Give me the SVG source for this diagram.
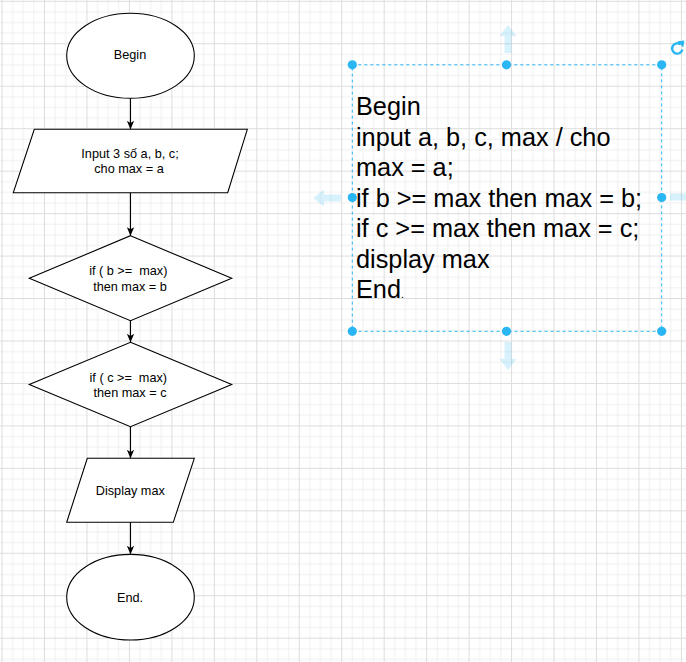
<svg xmlns="http://www.w3.org/2000/svg" width="686" height="662" viewBox="0 0 686 662">
<style>
.shape{fill:#ffffff;stroke:#000000;stroke-width:1.1}
.lbl{font-family:"Liberation Sans",Arial,sans-serif;font-size:12.7px;fill:#000000;text-anchor:middle}
.code{font-family:"Liberation Sans",Arial,sans-serif;font-size:25.3px;fill:#000000}
.conn{stroke:#000000;stroke-width:1.1;fill:none}
.sel{fill:none;stroke:#29b6f2;stroke-width:1;stroke-dasharray:3 3}
.handle{fill:#29b6f2}
.hover{fill:#29b6f2;opacity:0.18}
</style>
<defs>
<pattern id="grid" patternUnits="userSpaceOnUse" x="1.54" y="0.8" width="42.46" height="42.46">
<rect x="0" y="0" width="42.46" height="42.46" fill="#ffffff"/>
<rect x="10.615" y="0" width="1" height="42.46" fill="#f0f0f0"/>
<rect x="21.23" y="0" width="1" height="42.46" fill="#f0f0f0"/>
<rect x="31.845" y="0" width="1" height="42.46" fill="#f0f0f0"/>
<rect x="0" y="10.615" width="42.46" height="1" fill="#f0f0f0"/>
<rect x="0" y="21.23" width="42.46" height="1" fill="#f0f0f0"/>
<rect x="0" y="31.845" width="42.46" height="1" fill="#f0f0f0"/>
<rect x="0" y="0" width="1" height="42.46" fill="#dddddd"/>
<rect x="0" y="0" width="42.46" height="1" fill="#dddddd"/>
</pattern>
<marker id="arr" markerUnits="userSpaceOnUse" viewBox="0 0 10 10" refX="10" refY="5" markerWidth="8.5" markerHeight="8.5" orient="auto">
<path d="M0,0.7 L10,5 L0,9.3 L2.5,5 Z" fill="#000000"/>
</marker>
<path id="harrow" d="M0,0 L8.5,11 L3.5,11 L3.5,28 L-3.5,28 L-3.5,11 L-8.5,11 Z"/>
</defs>
<rect x="0" y="0" width="686" height="662" fill="url(#grid)"/>

<g id="connectors">
<line class="conn" x1="130.5" y1="98.3" x2="130.5" y2="129.3" marker-end="url(#arr)"/>
<line class="conn" x1="130.5" y1="192.7" x2="130.5" y2="235.7" marker-end="url(#arr)"/>
<line class="conn" x1="130.5" y1="320.7" x2="130.5" y2="342.3" marker-end="url(#arr)"/>
<line class="conn" x1="130.5" y1="426.7" x2="130.5" y2="458.3" marker-end="url(#arr)"/>
<line class="conn" x1="130.5" y1="522.3" x2="130.5" y2="554.3" marker-end="url(#arr)"/>
</g>

<g id="begin">
<ellipse class="shape" cx="130.5" cy="55.8" rx="63.8" ry="42.5"/>
<text class="lbl" x="130" y="58.5">Begin</text>
</g>

<g id="input">
<polygon class="shape" points="34.3,129.3 247.3,129.3 227.7,192.7 13.3,192.7"/>
<text class="lbl" x="130" y="158.3">Input 3 số a, b, c;</text>
<text class="lbl" x="129" y="172.8">cho max = a</text>
</g>

<g id="cond-b">
<polygon class="shape" points="130.5,235.7 231.7,278.3 130.5,320.7 29.3,278.3"/>
<text class="lbl" x="128.3" y="275" xml:space="preserve">if ( b &gt;=  max)</text>
<text class="lbl" x="130" y="290.7">then max = b</text>
</g>

<g id="cond-c">
<polygon class="shape" points="130.5,342.3 231.7,384.5 130.5,426.7 29.3,384.5"/>
<text class="lbl" x="128.3" y="381.5" xml:space="preserve">if ( c &gt;=  max)</text>
<text class="lbl" x="130" y="397.3">then max = c</text>
</g>

<g id="display">
<polygon class="shape" points="87.3,458.3 194.3,458.3 173.3,522.3 66.7,522.3"/>
<text class="lbl" x="130.3" y="495">Display max</text>
</g>

<g id="end">
<ellipse class="shape" cx="130.5" cy="597.2" rx="63.8" ry="42.8"/>
<text class="lbl" x="130" y="601.7">End.</text>
</g>

<g id="pseudocode">
<use href="#harrow" class="hover" transform="translate(508,25)"/>
<use href="#harrow" class="hover" transform="translate(508,370) rotate(180)"/>
<use href="#harrow" class="hover" transform="translate(313,198) rotate(-90)"/>
<use href="#harrow" class="hover" transform="translate(698,197) rotate(90)"/>
<text class="code" x="356" y="115">Begin</text>
<text class="code" x="356" y="145.5">input a, b, c, max / cho</text>
<text class="code" x="356" y="176.1">max = a;</text>
<text class="code" x="356" y="206.6">if b &gt;= max then max = b;</text>
<text class="code" x="356" y="237.2">if c &gt;= max then max = c;</text>
<text class="code" x="356" y="267.7">display max</text>
<text class="code" x="356" y="298.3">End<tspan font-size="11px">.</tspan></text>
<rect class="sel" x="352.3" y="64.8" width="309.4" height="266.5"/>
<circle class="handle" cx="352.3" cy="64.8" r="4.6"/>
<circle class="handle" cx="506.5" cy="64.8" r="4.6"/>
<circle class="handle" cx="661.7" cy="64.8" r="4.6"/>
<circle class="handle" cx="352.3" cy="197.5" r="4.6"/>
<circle class="handle" cx="661.7" cy="197.5" r="4.6"/>
<circle class="handle" cx="352.3" cy="331.3" r="4.6"/>
<circle class="handle" cx="506.5" cy="331.3" r="4.6"/>
<circle class="handle" cx="661.7" cy="331.3" r="4.6"/>
<path d="M680.6,44.4 A5.2,5.2 0 1 0 682.4,49.5" fill="none" stroke="#29b6f2" stroke-width="2.4"/>
<path d="M677.4,41.2 L684.4,40.6 L683.2,47.6 Z" fill="#29b6f2"/>
</g>
</svg>
